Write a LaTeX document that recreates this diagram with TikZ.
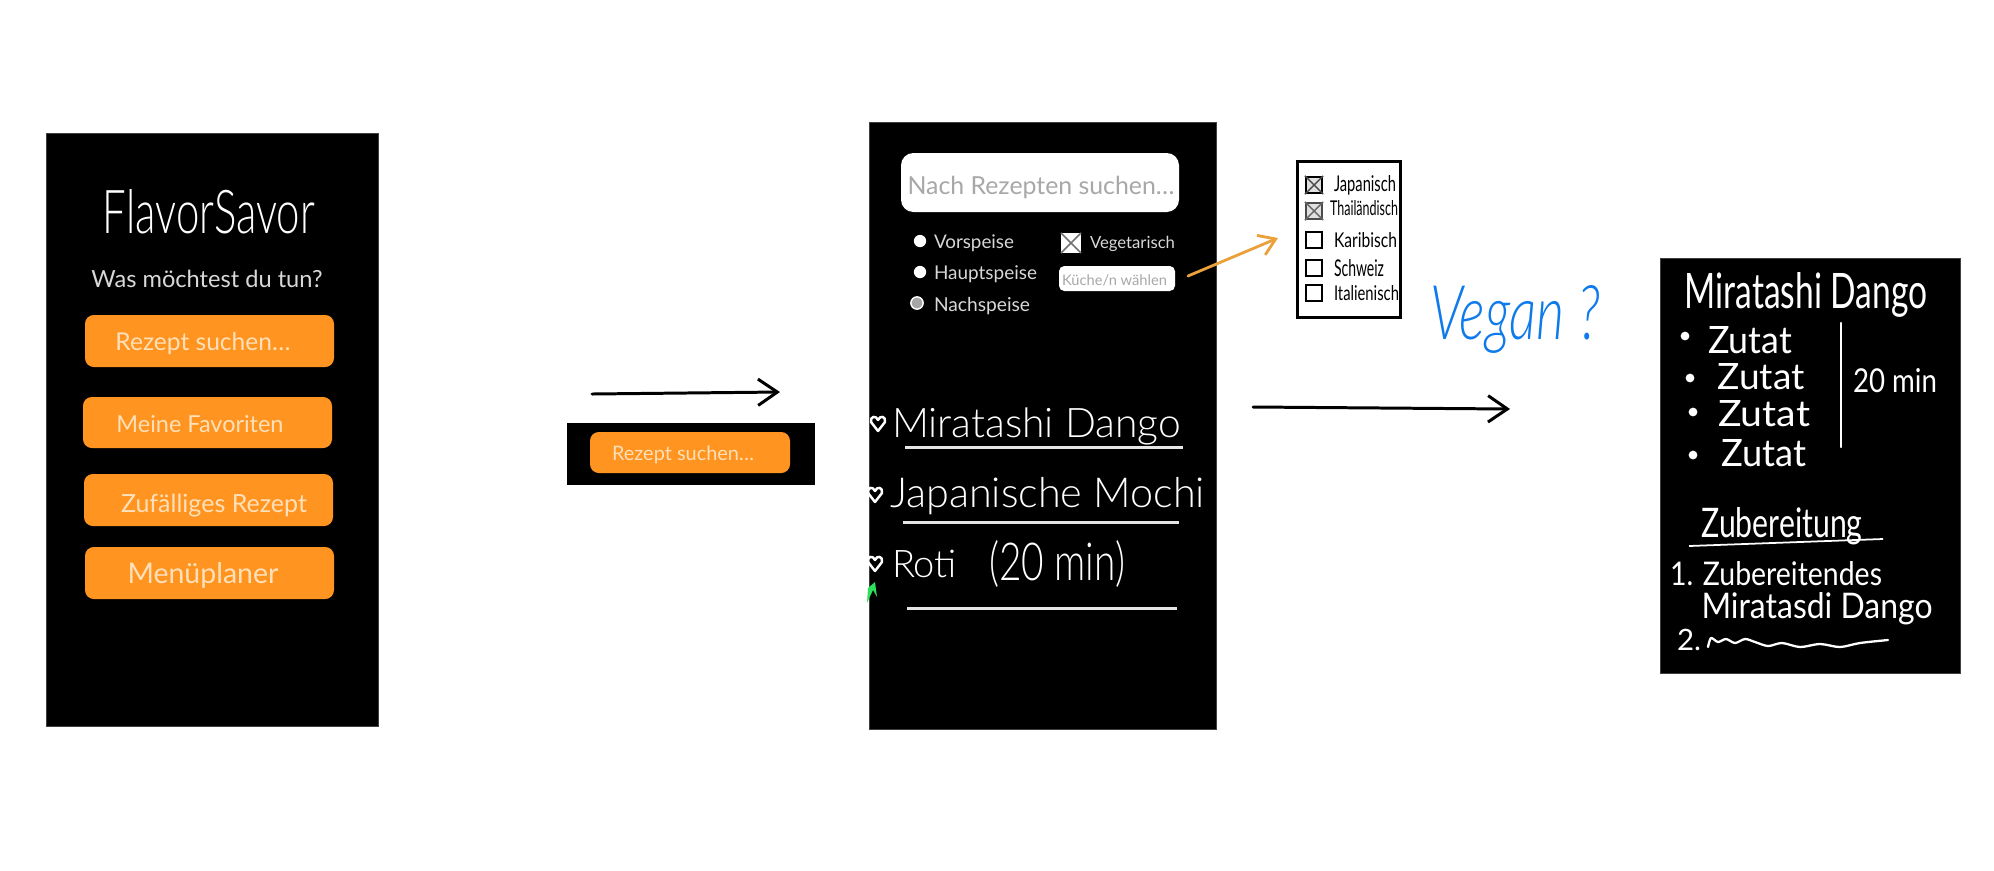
\documentclass[tikz,border=0pt]{standalone}
\usepackage{graphicx}
\usepackage{fontspec}
\usetikzlibrary{arrows.meta}
\setmainfont{Lato}
\newfontfamily\thinfont[ItalicFont={Lato Light Italic}]{Lato Light}
\newlength\pxu \setlength\pxu{0.02cm}
\newcommand\fitw[2]{\resizebox{#1\pxu}{!}{#2}}
\newcommand\fitwh[3]{\resizebox{#1\pxu}{#2\pxu}{#3}}
\definecolor{btn}{HTML}{FF9420}
\definecolor{btntxt}{HTML}{FFE0B8}
\definecolor{soft}{HTML}{D8D8D8}
\definecolor{hint}{HTML}{A8A8A8}
\definecolor{arrorange}{HTML}{EBA03C}
\definecolor{blueink}{HTML}{0F7BEA}
\definecolor{greenmark}{HTML}{2FE05A}
\tikzset{
  panel/.style={fill=black,draw=black!75,line width=0.4pt},
  btnbox/.style={fill=btn,rounded corners=5pt,draw=none},
  lbl/.style={inner sep=0pt,outer sep=0pt,font=\fontsize{20}{24}\selectfont},
  lightlbl/.style={lbl,text=white,font=\thinfont\fontsize{20}{24}\selectfont},
  softlbl/.style={lbl,text=soft},
  btnlbl/.style={lbl,text=btntxt},
  handlbl/.style={lbl,text=white},
  rulewhite/.style={white!90!black,line width=1.7pt},
  hand/.style={white,line width=1.3pt,line cap=round,line join=round},
  inkarrow/.style={black,line width=1.7pt,line cap=round,-{Straight Barb[length=11pt,width=15pt,line width=1.7pt]}},
  orangearrow/.style={arrorange,line width=1.6pt,line cap=round,-{Straight Barb[length=9pt,width=12pt,line width=1.6pt]}},
  radio/.style={circle,fill=white,minimum size=7pt,inner sep=0pt},
  sketchbox/.style={draw=black,line width=1pt,fill=white,minimum size=9.5pt,inner sep=0pt},
  dotitem/.style={circle,fill=white,minimum size=5pt,inner sep=0pt},
  hrt/.pic={\draw[white,line width=1.4pt,line join=round] (0,8) -- (-7,-1) .. controls (-8,-7) and (-2,-8) .. (0,-3) .. controls (2,-8) and (8,-7) .. (7,-1) -- cycle;}
}
\begin{document}
\begin{tikzpicture}[x=0.02cm,y=-0.02cm]
\useasboundingbox (0,0) rectangle (1994,870);
\fill[white] (0,0) rectangle (1994,870);

% --- first screen
\node[panel,anchor=north west,minimum width=332\pxu,minimum height=593\pxu,inner sep=0pt] (screenA) at (46,133) {};
\node[lightlbl] (appname) at (209,212) {\fitwh{212}{44}{FlavorSavor}};
\node[softlbl] (question) at (207,279) {\fitw{231}{Was möchtest du tun?}};
\fill[btnbox] (85,315) rectangle (334,367);
\fill[btnbox] (83,397) rectangle (332,448);
\fill[btnbox] (84,474) rectangle (333,526);
\fill[btnbox] (85,547) rectangle (334,599);
\node[btnlbl] (b1) at (203,344) {\fitw{175}{Rezept suchen…}};
\node[btnlbl] (b2) at (200,424) {\fitw{167}{Meine Favoriten}};
\node[btnlbl] (b3) at (214,506) {\fitw{186}{Zufälliges Rezept}};
\node[btnlbl] (b4) at (203,575) {\fitw{151}{Menüplaner}};

% --- arrow and excerpt
\coordinate (a1s) at (592,394);
\coordinate (a1e) at (780,392);
\draw[inkarrow] (a1s) -- (a1e);
\node[fill=black,anchor=north west,minimum width=248\pxu,minimum height=62\pxu,inner sep=0pt] (excerpt) at (567,423) {};
\fill[btnbox] (590,432) rectangle (790,473);
\node[btnlbl] (b5) at (683,455) {\fitw{142}{Rezept suchen…}};

% --- second screen
\node[panel,anchor=north west,minimum width=347\pxu,minimum height=607\pxu,inner sep=0pt] (screenB) at (869,122) {};
\fill[white,rounded corners=7pt] (901,153) rectangle (1179,212);
\node[lbl,text=hint] (search) at (1041,187) {\fitw{267}{Nach Rezepten suchen…}};
\node[radio] (r1) at (920,241) {};
\node[radio] (r2) at (920,272) {};
\node[radio,fill=black!35,draw=white,line width=0.8pt] (r3) at (917,303) {};
\node[softlbl,anchor=west] (t1) at (934,243) {\fitw{80}{Vorspeise}};
\node[softlbl,anchor=west] (t2) at (934,274) {\fitw{103}{Hauptspeise}};
\node[softlbl,anchor=west] (t3) at (934,306) {\fitw{96}{Nachspeise}};
\node[fill=white,minimum size=11pt,inner sep=0pt] (veg) at (1071,243) {};
\draw[black!55,line width=0.9pt] (veg.north west) -- (veg.south east) (veg.north east) -- (veg.south west);
\node[softlbl,anchor=west] (vegt) at (1090,244) {\fitw{85}{Vegetarisch}};
\fill[white,rounded corners=3pt] (1059,266) rectangle (1175,291);
\node[lbl,text=hint,anchor=west] (kueche) at (1062,280) {\fitw{105}{Küche/n wählen}};

\pic at (878,423) {hrt};
\pic at (875,494) {hrt};
\pic at (875,563) {hrt};
\node[lightlbl,anchor=base west] (d1) at (892,437) {\fitw{289}{Miratashi Dango}};
\draw[rulewhite] (905,447) -- (1183,447);
\node[lightlbl,anchor=base west] (d2) at (890,507) {\fitw{315}{Japanische Mochi}};
\draw[rulewhite] (903,522) -- (1179,522);
\node[lightlbl,anchor=base west] (d3) at (892,577) {\fitw{65}{Roti}};
\node[lightlbl] (d3t) at (1057,564) {\fitwh{136}{40}{(20 min)}};
\draw[rulewhite] (907,608) -- (1177,608);
\fill[greenmark] (867,603) -- (868,588) -- (875,582) -- (877,597) -- (873,590) -- cycle;

% --- orange arrow and cuisine sketch
\node[draw=black,line width=1.8pt,fill=white,anchor=north west,minimum width=103\pxu,minimum height=156\pxu,inner sep=0pt] (sheet) at (1296,160) {};
\coordinate (a2s) at (1188,276);
\coordinate (a2e) at (1278,238);
\draw[orangearrow] (a2s) -- (a2e);
\node[sketchbox,fill=black!12] (c1) at (1314,185) {};
\draw[black!70,line width=0.8pt] (c1.north west) -- (c1.south east) (c1.north east) -- (c1.south west);
\node[sketchbox,fill=black!12,draw=black!70] (c2) at (1314,211) {};
\draw[black!60,line width=0.8pt] (c2.north west) -- (c2.south east) (c2.north east) -- (c2.south west);
\node[sketchbox] (c3) at (1314,240) {};
\node[sketchbox] (c4) at (1314,268) {};
\node[sketchbox] (c5) at (1314,293) {};
\node[lbl,anchor=west] (l1) at (1334,185) {\fitwh{62}{16}{Japanisch}};
\node[lbl,anchor=west] (l2) at (1330,208) {\fitwh{68}{15}{Thailändisch}};
\node[lbl,anchor=west] (l3) at (1334,240) {\fitwh{63}{15}{Karibisch}};
\node[lbl,anchor=west] (l4) at (1334,268) {\fitwh{50}{17}{Schweiz}};
\node[lbl,anchor=west] (l5) at (1334,293) {\fitwh{65}{15}{Italienisch}};

% --- second arrow and note
\coordinate (a3s) at (1253,407);
\coordinate (a3e) at (1510,409);
\draw[inkarrow] (a3s) -- (a3e);
\node[lightlbl,text=blueink,anchor=center] (vegan) at (1515,319) {\fitwh{170}{54}{\itshape Vegan ?}};

% --- recipe screen
\node[panel,anchor=north west,minimum width=300\pxu,minimum height=415\pxu,inner sep=0pt] (screenC) at (1660,258) {};
\node[handlbl] (rt) at (1806,295) {\fitwh{243}{36}{Miratashi Dango}};
\node[dotitem] (p1) at (1685,336) {};
\node[dotitem] (p2) at (1690,378) {};
\node[dotitem] (p3) at (1693,412) {};
\node[dotitem] (p4) at (1693,455) {};
\node[handlbl] (z1) at (1750,340) {\fitwh{84}{27}{Zutat}};
\node[handlbl] (z2) at (1761,377) {\fitwh{87}{26}{Zutat}};
\node[handlbl] (z3) at (1764,414) {\fitwh{92}{26}{Zutat}};
\node[handlbl] (z4) at (1764,453) {\fitwh{85}{27}{Zutat}};
\draw[hand] (1841,323) -- (1841,447);
\node[handlbl] (zt) at (1895,381) {\fitwh{84}{24}{20 min}};
\node[handlbl] (zb) at (1782,526) {\fitwh{161}{30}{Zubereitung}};
\draw[white,line width=1pt] (1689,546) -- (1883,539);
\node[handlbl] (s1) at (1776,574) {\fitwh{212}{24}{1. Zubereitendes}};
\node[handlbl] (s1b) at (1817,609) {\fitwh{231}{26}{Miratasdi Dango}};
\node[handlbl] (s2) at (1689,640) {\fitw{24}{2.}};
\draw[hand] plot[smooth] coordinates {(1708,647) (1711,638) (1718,642) (1726,639) (1735,643) (1745,639) (1755,642) (1768,646) (1782,643) (1800,647) (1820,644) (1840,647) (1860,643) (1888,640)};
\end{tikzpicture}
\end{document}
